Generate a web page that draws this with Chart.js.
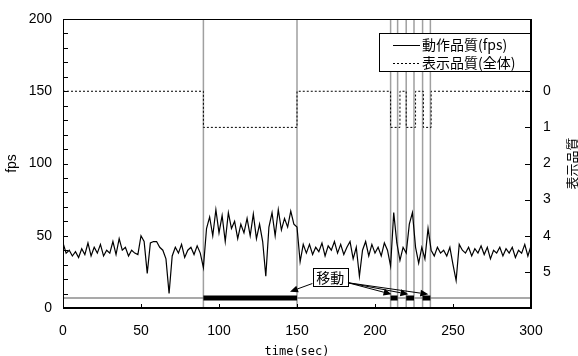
<!DOCTYPE html>
<html>
<head>
<meta charset="utf-8">
<script src="https://cdn.jsdelivr.net/npm/chart.js@4"></script>
<style>html,body{margin:0;background:#fff}</style>
</head>
<body>
<canvas id="chart" width="578" height="356"></canvas>
<script>
// fps samples, one every 2 seconds from 0 to 300 sec
const sampleStep = 2;
const fpsValues = [
  45, 38, 40, 36, 39, 35, 41, 37, 45, 36,
  42, 38, 44, 36, 40, 38, 46, 37, 48, 40,
  42, 36, 40, 38, 37, 50, 46, 24, 45, 46,
  46, 42, 40, 34, 10, 36, 42, 38, 44, 35,
  40, 42, 37, 43, 38, 28, 55, 63, 50, 68,
  52, 64, 46, 66, 55, 60, 48, 58, 52, 62,
  50, 65, 48, 58, 46, 22, 56, 66, 50, 68,
  54, 62, 56, 67, 58, 56, 32, 44, 38, 44,
  37, 42, 39, 45, 36, 43, 40, 46, 38, 44,
  37, 42, 46, 34, 42, 22, 40, 46, 36, 44,
  38, 42, 36, 45, 40, 29, 66, 45, 33, 42,
  38, 58, 66, 42, 31, 42, 34, 55, 40, 36,
  42, 38, 40, 36, 42, 30, 19, 44, 40, 38,
  42, 36, 41, 38, 43, 37, 42, 34, 40, 38,
  42, 36, 41, 38, 42, 35, 40, 38, 44, 36,
  43
];
const sampleTimes = fpsValues.map((v, i) => i * sampleStep);

// display quality (right axis), held from each time to the next
const qualityTimes = [0, 90, 150, 210, 216, 220, 226, 231, 236, 300];
const qualityLevels = [0, 1, 0, 1, 0, 1, 0, 1, 0, 0];

// movement periods
const moveStart = [90, 210, 220, 230.5];
const moveEnd = [150, 214.5, 225, 235.5];
const moveLevel = 7;

const xTicks = [0, 50, 100, 150, 200, 250, 300];
const qualityTicks = [0, 1, 2, 3, 4, 5];

const fpsData = sampleTimes.map((t, i) => ({ x: t, y: fpsValues[i] }));
const qualityData = qualityTimes.map((t, i) => ({ x: t, y: qualityLevels[i] }));
const moveBars = [];
const moveEdges = [];
moveStart.forEach((s, i) => {
  moveBars.push({ x: s, y: moveLevel }, { x: moveEnd[i], y: moveLevel }, { x: moveEnd[i], y: null });
  [s, moveEnd[i]].forEach(e => moveEdges.push({ x: e, y: 0 }, { x: e, y: 200 }, { x: e, y: null }));
});

const tickFont = { family: "'Liberation Sans', Arial, sans-serif", size: 14 };
const jpFont = "14px 'Noto Sans CJK JP', sans-serif";

function arrow(ctx, x1, y1, x2, y2) {
  const a = Math.atan2(y2 - y1, x2 - x1), L = 8, W = 3.5;
  const bx = x2 - L * Math.cos(a), by = y2 - L * Math.sin(a);
  ctx.beginPath(); ctx.moveTo(x1, y1); ctx.lineTo(bx, by); ctx.stroke();
  ctx.beginPath();
  ctx.moveTo(x2, y2);
  ctx.lineTo(bx + W * Math.sin(a), by - W * Math.cos(a));
  ctx.lineTo(bx - W * Math.sin(a), by + W * Math.cos(a));
  ctx.closePath(); ctx.fill();
}

const decorations = {
  id: 'decorations',
  afterDraw(chart) {
    const ctx = chart.ctx, area = chart.chartArea;
    const xs = chart.scales.x, ys = chart.scales.y, y2 = chart.scales.y2;
    const px = v => xs.getPixelForValue(v), py = v => ys.getPixelForValue(v);
    ctx.save();
    ctx.strokeStyle = '#000'; ctx.fillStyle = '#000'; ctx.lineWidth = 1;
    ctx.strokeRect(area.left + 0.5, area.top + 0.5, area.right - area.left - 1, area.bottom - area.top - 1);

    // inward tick marks
    ctx.beginPath();
    for (let v = 10; v < 200; v += 10) {
      const y = Math.round(py(v)) + 0.5;
      ctx.moveTo(area.left, y); ctx.lineTo(area.left + 5, y);
    }
    xTicks.slice(1, -1).forEach(v => {
      const x = Math.round(px(v)) + 0.5;
      ctx.moveTo(x, area.bottom); ctx.lineTo(x, area.bottom - 4);
    });
    qualityTicks.forEach(v => {
      const y = Math.round(y2.getPixelForValue(v)) + 0.5;
      ctx.moveTo(area.right, y); ctx.lineTo(area.right - 6, y);
    });
    ctx.stroke();

    // legend box
    const lx = 379, ly = area.top + 14, lw = area.right - lx, lh = 39;
    ctx.fillStyle = '#fff';
    ctx.fillRect(lx, ly, lw, lh);
    ctx.strokeRect(lx + 0.5, ly + 0.5, lw - 1, lh - 1);
    ctx.fillStyle = '#000';
    ctx.beginPath(); ctx.moveTo(393, ly + 12.5); ctx.lineTo(420, ly + 12.5); ctx.stroke();
    ctx.setLineDash([2, 2]);
    ctx.beginPath(); ctx.moveTo(393, ly + 30.5); ctx.lineTo(420, ly + 30.5); ctx.stroke();
    ctx.setLineDash([]);
    ctx.font = jpFont; ctx.textBaseline = 'middle'; ctx.textAlign = 'left';
    ctx.fillText('動作品質(fps)', 422, ly + 12);
    ctx.fillText('表示品質(全体)', 422, ly + 30);

    // movement label with arrows
    const bx = px(160), bw = px(182.6) - bx, by = py(27.7), bh = py(15.2) - by;
    arrow(ctx, bx, py(17), px(145.5), py(11.3));
    [210.6, 221.4, 234.2].forEach(t => arrow(ctx, bx + bw, py(17.5), px(t), py(9.5)));
    ctx.fillStyle = '#fff';
    ctx.fillRect(bx, by, bw, bh);
    ctx.strokeRect(Math.round(bx) + 0.5, Math.round(by) + 0.5, Math.round(bw), Math.round(bh));
    ctx.fillStyle = '#000'; ctx.textAlign = 'center';
    ctx.fillText('移動', bx + bw / 2, by + bh / 2 + 1);

    // right axis title, reading upward
    ctx.translate(572, (area.top + area.bottom) / 2);
    ctx.rotate(-Math.PI / 2);
    ctx.font = "13px 'Noto Sans CJK JP', sans-serif";
    ctx.fillText('表示品質', 0, 0);
    ctx.restore();
  }
};

new Chart(document.getElementById('chart'), {
  type: 'line',
  data: {
    datasets: [
      { label: '動作品質(fps)', data: fpsData, yAxisID: 'y', borderColor: '#000', borderWidth: 1.2, pointRadius: 0, tension: 0 },
      { label: '表示品質(全体)', data: qualityData, yAxisID: 'y2', stepped: 'before', borderColor: '#000', borderWidth: 1, borderDash: [2, 2], pointRadius: 0 },
      { label: '移動', data: moveBars, yAxisID: 'y', borderColor: '#000', borderWidth: 5, borderCapStyle: 'butt', pointRadius: 0, spanGaps: false },
      { label: 'base', data: [{ x: 0, y: moveLevel }, { x: 300, y: moveLevel }], yAxisID: 'y', borderColor: '#8c8c8c', borderWidth: 1.5, pointRadius: 0 },
      { label: 'edges', data: moveEdges, yAxisID: 'y', borderColor: '#a0a0a0', borderWidth: 1.5, pointRadius: 0, spanGaps: false }
    ]
  },
  options: {
    responsive: false,
    animation: false,
    devicePixelRatio: 1,
    layout: { padding: { top: 19 } },
    plugins: { legend: { display: false }, tooltip: { enabled: false } },
    scales: {
      x: {
        type: 'linear', min: 0, max: 300,
        afterFit: s => { s.height = 48; },
        afterBuildTicks: s => { s.ticks = xTicks.map(v => ({ value: v })); },
        ticks: { color: '#000', font: tickFont, padding: 7, maxRotation: 0 },
        grid: { display: false },
        border: { display: true, color: '#000' },
        title: { display: true, text: 'time(sec)', color: '#000', font: { family: "'DejaVu Sans Mono', monospace", size: 12, lineHeight: 1 }, padding: { top: 0, bottom: -2 } }
      },
      y: {
        position: 'left', min: 0, max: 200,
        afterFit: s => { s.width = 63; },
        ticks: { stepSize: 50, color: '#000', font: tickFont, padding: 3 },
        grid: { display: false },
        border: { display: true, color: '#000' },
        title: { display: true, text: 'fps', color: '#000', font: tickFont, padding: { top: 4, bottom: 0 } }
      },
      y2: {
        position: 'right', min: -2, max: 6, reverse: true,
        afterFit: s => { s.width = 47; },
        ticks: { stepSize: 1, color: '#000', font: tickFont, padding: 4, callback: v => (v >= 0 && v <= 5 ? v : '') },
        grid: { display: false },
        border: { display: true, color: '#000' }
      }
    }
  },
  plugins: [decorations]
});
</script>
</body>
</html>
